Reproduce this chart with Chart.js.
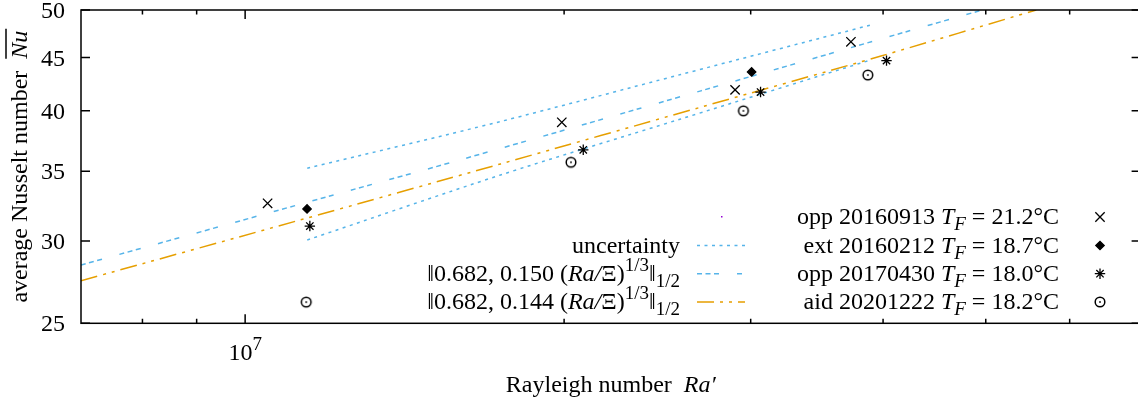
<!DOCTYPE html>
<html>
<head>
<meta charset="utf-8">
<script src="https://cdn.jsdelivr.net/npm/chart.js@4.4.1/dist/chart.umd.min.js"></script>
<style>
html, body { margin: 0; padding: 0; background: #fff; overflow: hidden; }
#chart { display: block; }
</style>
</head>
<body>
<canvas id="chart" width="1150" height="404"></canvas>
<script>
const raOpp2016 = [1.05e7, 1.99e7, 2.90e7, 3.73e7];
const nuOpp2016 = [32.6, 39.0, 41.9, 46.6];
const raExt2016 = [1.144e7, 3.006e7];
const nuExt2016 = [32.2, 43.6];
const raOpp2017 = [1.151e7, 2.085e7, 3.065e7, 4.03e7];
const nuOpp2017 = [31.0, 36.7, 41.7, 44.7];
const raAid2020 = [1.142e7, 2.03e7, 2.953e7, 3.87e7];
const nuAid2020 = [26.2, 35.7, 40.0, 43.3];

// fit curves + uncertainty band
const raFit150 = [7.0e6, 1.221e7, 1.585e7, 2.692e7, 4.187e7, 4.963e7];
const nuFit150 = [28.44, 33.28, 35.82, 41.81, 47.59, 50.0];
const raFit144 = [7.0e6, 1.127e7, 1.742e7, 2.692e7, 3.982e7, 5.58e7];
const nuFit144 = [27.47, 31.42, 35.57, 40.33, 45.16, 50.0];
const raBand = [1.1445e7, 1.742e7, 2.577e7, 3.895e7];
const nuBandHi = [35.23, 39.07, 43.35, 48.37];
const nuBandLo = [30.06, 34.71, 39.29, 44.77];

// axes
const xRange = [7e6, 7e7];
const yRange = [25, 50];
const yTicks = [25, 30, 35, 40, 45, 50];
const xMajorTicks = [1e7];
const xMinorTicks = [8e6, 9e6, 2e7, 3e7, 4e7, 5e7, 6e7];

const FAM = '"Liberation Serif", "DejaVu Serif", serif';
const BLUE = '#56b4e9';
const ORANGE = '#e69f00';
const dotDash = [3, 4.5];
const blueDash = [5, 3.5, 5, 3.5, 5, 18];
const orangeDash = [17, 6, 3, 6, 3, 6];

function pts(xs, ys) {
    return xs.map((v, i) => ({ x: v, y: ys[i] }));
}

// circle with a dot in the middle
function makeOdot() {
    const c = document.createElement('canvas');
    c.width = 14; c.height = 14;
    const g = c.getContext('2d');
    g.strokeStyle = '#000';
    g.lineWidth = 1.5;
    g.beginPath();
    g.arc(7, 7, 4.8, 0, Math.PI * 2);
    g.stroke();
    g.fillStyle = '#000';
    g.fillRect(6.2, 6.2, 1.6, 1.6);
    return c;
}
const odot = makeOdot();

const markerStyles = [
    { pointStyle: 'crossRot', radius: 6.6 },
    { pointStyle: 'rectRot', radius: 4.2 },
    { pointStyle: 'star', radius: 5.2 },
    { pointStyle: odot, radius: 5 }
];

function markerSet(xs, ys, m) {
    return {
        data: pts(xs, ys),
        showLine: false,
        pointStyle: m.pointStyle,
        pointRadius: m.radius,
        pointBorderColor: '#000',
        pointBackgroundColor: '#000',
        pointBorderWidth: 1.3
    };
}

function lineSet(xs, ys, color, dash) {
    return {
        data: pts(xs, ys),
        borderColor: color,
        borderWidth: 1.5,
        borderDash: dash,
        pointRadius: 0,
        tension: 0.3,
        fill: false
    };
}

function fontOf(p) {
    return (p.it ? 'italic ' : '') + (p.sz || 24) + 'px ' + FAM;
}

function richWidth(ctx, parts) {
    let w = 0;
    parts.forEach(p => { ctx.font = fontOf(p); w += ctx.measureText(p.t).width; });
    return w;
}

function drawRich(ctx, parts, x, base, align) {
    const w = richWidth(ctx, parts);
    let cx = align === 'right' ? x - w : (align === 'center' ? x - w / 2 : x);
    ctx.textAlign = 'left';
    ctx.textBaseline = 'alphabetic';
    parts.forEach(p => {
        ctx.font = fontOf(p);
        ctx.fillText(p.t, cx, base + (p.dy || 0));
        cx += ctx.measureText(p.t).width;
    });
    return w;
}

const SUP = { sz: 19, dy: -10 };
const SUB = { sz: 19, dy: 6 };

const fitLabels = [
    [{ t: 'uncertainty' }],
    [{ t: '\u20160.682, 0.150 (' }, { t: 'Ra/', it: true }, { t: '\u039e)' }, Object.assign({ t: '1/3' }, SUP), { t: '\u2016' }, Object.assign({ t: '1/2' }, SUB)],
    [{ t: '\u20160.682, 0.144 (' }, { t: 'Ra/', it: true }, { t: '\u039e)' }, Object.assign({ t: '1/3' }, SUP), { t: '\u2016' }, Object.assign({ t: '1/2' }, SUB)]
];
const runNames = ['opp 20160913 ', 'ext 20160212 ', 'opp 20170430 ', 'aid 20201222 '];
const runTemps = [' = 21.2\u00b0C', ' = 18.7\u00b0C', ' = 18.0\u00b0C', ' = 18.2\u00b0C'];
const legendRows = [216, 244.5, 272.7, 301];

const framePlugin = {
    id: 'frame',
    afterDatasetsDraw(chart) {
        const { ctx, chartArea: a, scales: { x, y } } = chart;
        ctx.save();
        ctx.strokeStyle = '#000';
        ctx.fillStyle = '#000';
        ctx.lineWidth = 1.5;
        ctx.setLineDash([]);

        // inward ticks on all four sides
        ctx.beginPath();
        yTicks.forEach(v => {
            const py = y.getPixelForValue(v);
            ctx.moveTo(a.left, py); ctx.lineTo(a.left + 9, py);
            ctx.moveTo(a.right, py); ctx.lineTo(a.right - 9, py);
        });
        xMajorTicks.forEach(v => {
            const px = x.getPixelForValue(v);
            ctx.moveTo(px, a.bottom); ctx.lineTo(px, a.bottom - 9);
            ctx.moveTo(px, a.top); ctx.lineTo(px, a.top + 9);
        });
        xMinorTicks.forEach(v => {
            const px = x.getPixelForValue(v);
            ctx.moveTo(px, a.bottom); ctx.lineTo(px, a.bottom - 4.5);
            ctx.moveTo(px, a.top); ctx.lineTo(px, a.top + 4.5);
        });
        ctx.stroke();
        ctx.strokeRect(a.left, a.top, a.right - a.left, a.bottom - a.top);

        // tick labels
        yTicks.forEach(v => {
            drawRich(ctx, [{ t: String(v) }], a.left - 16, y.getPixelForValue(v) + 8, 'right');
        });
        xMajorTicks.forEach(v => {
            const e = Math.round(Math.log10(v));
            drawRich(ctx, [{ t: '10' }, Object.assign({ t: String(e) }, SUP)], x.getPixelForValue(v), 360, 'center');
        });

        // axis titles
        drawRich(ctx, [{ t: 'Rayleigh number  ' }, { t: 'Ra\u2032', it: true }], (a.left + a.right) / 2, 392, 'center');
        ctx.save();
        ctx.translate(27, (a.top + a.bottom) / 2);
        ctx.rotate(-Math.PI / 2);
        const yParts = [{ t: 'average Nusselt number  ' }, { t: 'Nu', it: true }];
        const w = drawRich(ctx, yParts, 0, 0, 'center');
        ctx.font = fontOf(yParts[1]);
        const nuW = ctx.measureText('Nu').width;
        ctx.beginPath();
        ctx.moveTo(w / 2 - nuW, -21);
        ctx.lineTo(w / 2 + 2, -21);
        ctx.stroke();
        ctx.restore();

        // key, left column (lines)
        ctx.fillStyle = '#9400d3';
        ctx.fillRect(721, 216, 1.5, 1.5);
        const lineKeys = [[BLUE, dotDash], [BLUE, blueDash], [ORANGE, orangeDash]];
        ctx.lineWidth = 1.5;
        lineKeys.forEach((k, i) => {
            const ly = legendRows[i + 1] + 1;
            ctx.strokeStyle = k[0];
            ctx.setLineDash(k[1]);
            ctx.beginPath();
            ctx.moveTo(697, ly);
            ctx.lineTo(745, ly);
            ctx.stroke();
        });
        ctx.setLineDash([]);
        ctx.fillStyle = '#000';
        ctx.strokeStyle = '#000';
        fitLabels.forEach((parts, i) => {
            drawRich(ctx, parts, 680, legendRows[i + 1] + 8, 'right');
        });

        // key, right column (markers)
        runNames.forEach((name, i) => {
            const parts = [{ t: name }, { t: 'T', it: true }, Object.assign({ t: 'F', it: true }, SUB), { t: runTemps[i] }];
            drawRich(ctx, parts, 1059, legendRows[i] + 8, 'right');
            ctx.lineWidth = 1.3;
            Chart.helpers.drawPoint(ctx, { pointStyle: markerStyles[i].pointStyle, radius: markerStyles[i].radius, rotation: 0, borderWidth: 1.3 }, 1100, legendRows[i] + 1);
        });
        ctx.restore();
    }
};

new Chart(document.getElementById('chart'), {
    type: 'line',
    data: {
        datasets: [
            markerSet(raOpp2016, nuOpp2016, markerStyles[0]),
            markerSet(raExt2016, nuExt2016, markerStyles[1]),
            markerSet(raOpp2017, nuOpp2017, markerStyles[2]),
            markerSet(raAid2020, nuAid2020, markerStyles[3]),
            lineSet(raBand, nuBandHi, BLUE, dotDash),
            lineSet(raBand, nuBandLo, BLUE, dotDash),
            lineSet(raFit150, nuFit150, BLUE, blueDash),
            lineSet(raFit144, nuFit144, ORANGE, orangeDash)
        ]
    },
    options: {
        responsive: false,
        animation: false,
        layout: { padding: { left: 81, top: 10, right: 9.4, bottom: 80.7 } },
        scales: {
            x: { type: 'logarithmic', min: xRange[0], max: xRange[1], display: false },
            y: { type: 'logarithmic', min: yRange[0], max: yRange[1], display: false }
        },
        plugins: { legend: { display: false }, tooltip: { enabled: false } }
    },
    plugins: [framePlugin]
});
</script>
</body>
</html>
